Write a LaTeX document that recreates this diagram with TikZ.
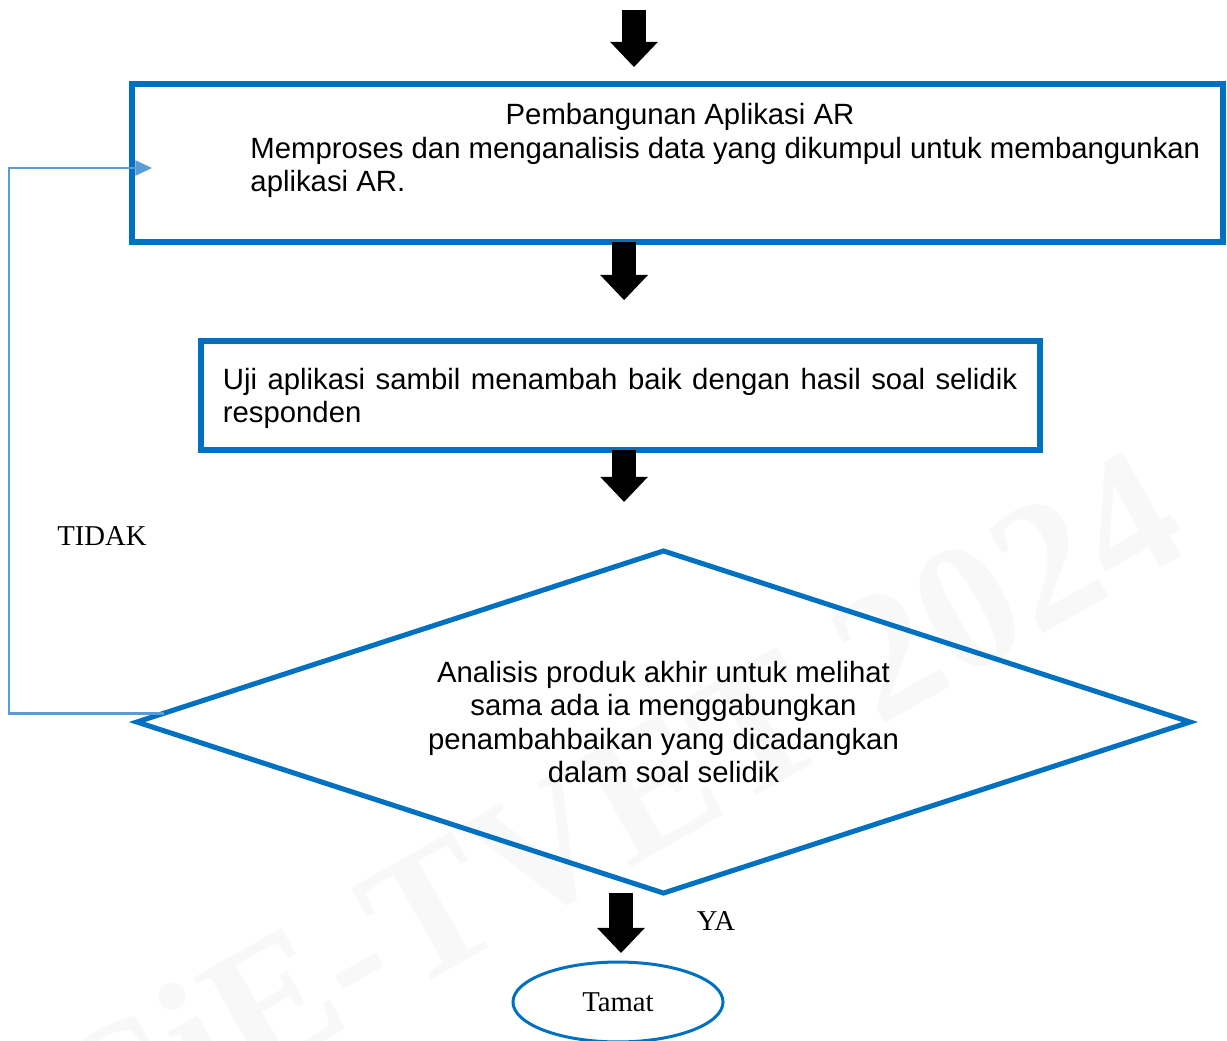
\documentclass[tikz,border=0pt]{standalone}
\usepackage{fontspec}
\setmainfont{Liberation Serif}
\newfontfamily\arial{Liberation Sans}
\usetikzlibrary{shapes.geometric,arrows.meta,fit}
\definecolor{boxblue}{HTML}{0070C0}
\definecolor{loopblue}{HTML}{5B9BD5}
\definecolor{wmgray}{HTML}{F8F8F8}
\hyphenpenalty=10000

\begin{document}
\begin{tikzpicture}[x=0.418pt,y=-0.418pt,
	box/.style={draw=boxblue,line width=2.5pt,inner sep=0pt,outer sep=0pt},
	decision/.style={diamond,draw=boxblue,line width=2.1pt,inner sep=0pt,outer sep=0pt,
		aspect=3,minimum width=440.2pt,minimum height=143pt,align=center,
		font=\arial\fontsize{12.25}{14}\selectfont},
	terminal/.style={ellipse,draw=boxblue,line width=1.25pt,outer sep=0pt,
		minimum width=87.8pt,minimum height=33.4pt,font=\fontsize{12}{14}\selectfont},
	txt/.style={font=\arial\fontsize{12.25}{13.8}\selectfont,inner sep=0pt},
	lbl/.style={font=\fontsize{12}{14}\selectfont,inner sep=0pt},
	fatarrow/.style={line width=10pt,-{Triangle[length=10.5pt,width=20pt,line width=0pt]}},
	loopline/.style={draw=loopblue,line width=1.1pt,-{Triangle[length=7pt,width=6.3pt]}}
	]
	\useasboundingbox (0,0) rectangle (1227,1041);

	% faint mark in the background
	\node[anchor=base east,rotate=29.5,text=wmgray,inner sep=0pt,
		font=\bfseries\fontsize{76}{76}\selectfont] (wmark) at (1195,548) {CiE-TVET 2024};

	% boxes
	\node[box,fit={(132,84) (1223,242)}] (box1) {};
	\node[txt] (t1a) at (680,116.5) {Pembangunan Aplikasi AR};
	\node[txt,anchor=west,align=left] (t1b) at (250,167) {Memproses dan menganalisis data yang dikumpul untuk membangunkan\\aplikasi AR.};

	\node[box,fit={(201,341) (1040,450)}] (box2) {};
	\node[txt,text width=332pt,align=justify] (t2) at (620,398) {Uji aplikasi sambil menambah baik dengan hasil soal selidik responden};

	\node[decision] (dec) at (663.5,722) {Analisis produk akhir untuk melihat\\sama ada ia menggabungkan\\penambahbaikan yang dicadangkan\\dalam soal selidik};

	\node[terminal] (tamat) at (618,1002) {Tamat};

	\node[lbl] (tidak) at (102,536) {TIDAK};
	\node[lbl] (ya) at (716,921) {YA};

	% block arrows
	\coordinate (a1) at (634,10);
	\coordinate (a2) at ([xshift=1.5pt]box2.north);
	\coordinate (a3) at ([xshift=1.5pt]box2.south);
	\coordinate (a4) at ([xshift=1.25pt]tamat.north);
	\draw[fatarrow,shorten >=7.1pt] (a1) -- (a1 |- box1.north);
	\draw[fatarrow,shorten >=17.1pt] (box1.south -| a2) -- (a2);
	\draw[fatarrow,shorten >=20.5pt] (a3) -- (a3 |- dec.north);
	\draw[fatarrow,shorten >=3.8pt] (dec.south -| a4) -- (a4);

	% back loop (TIDAK)
	\coordinate (lp) at (9,168);
	\coordinate (lpin) at (152,168);
	\draw[loopline] (dec.179) -| (lp) -- (lpin);
\end{tikzpicture}
\end{document}
